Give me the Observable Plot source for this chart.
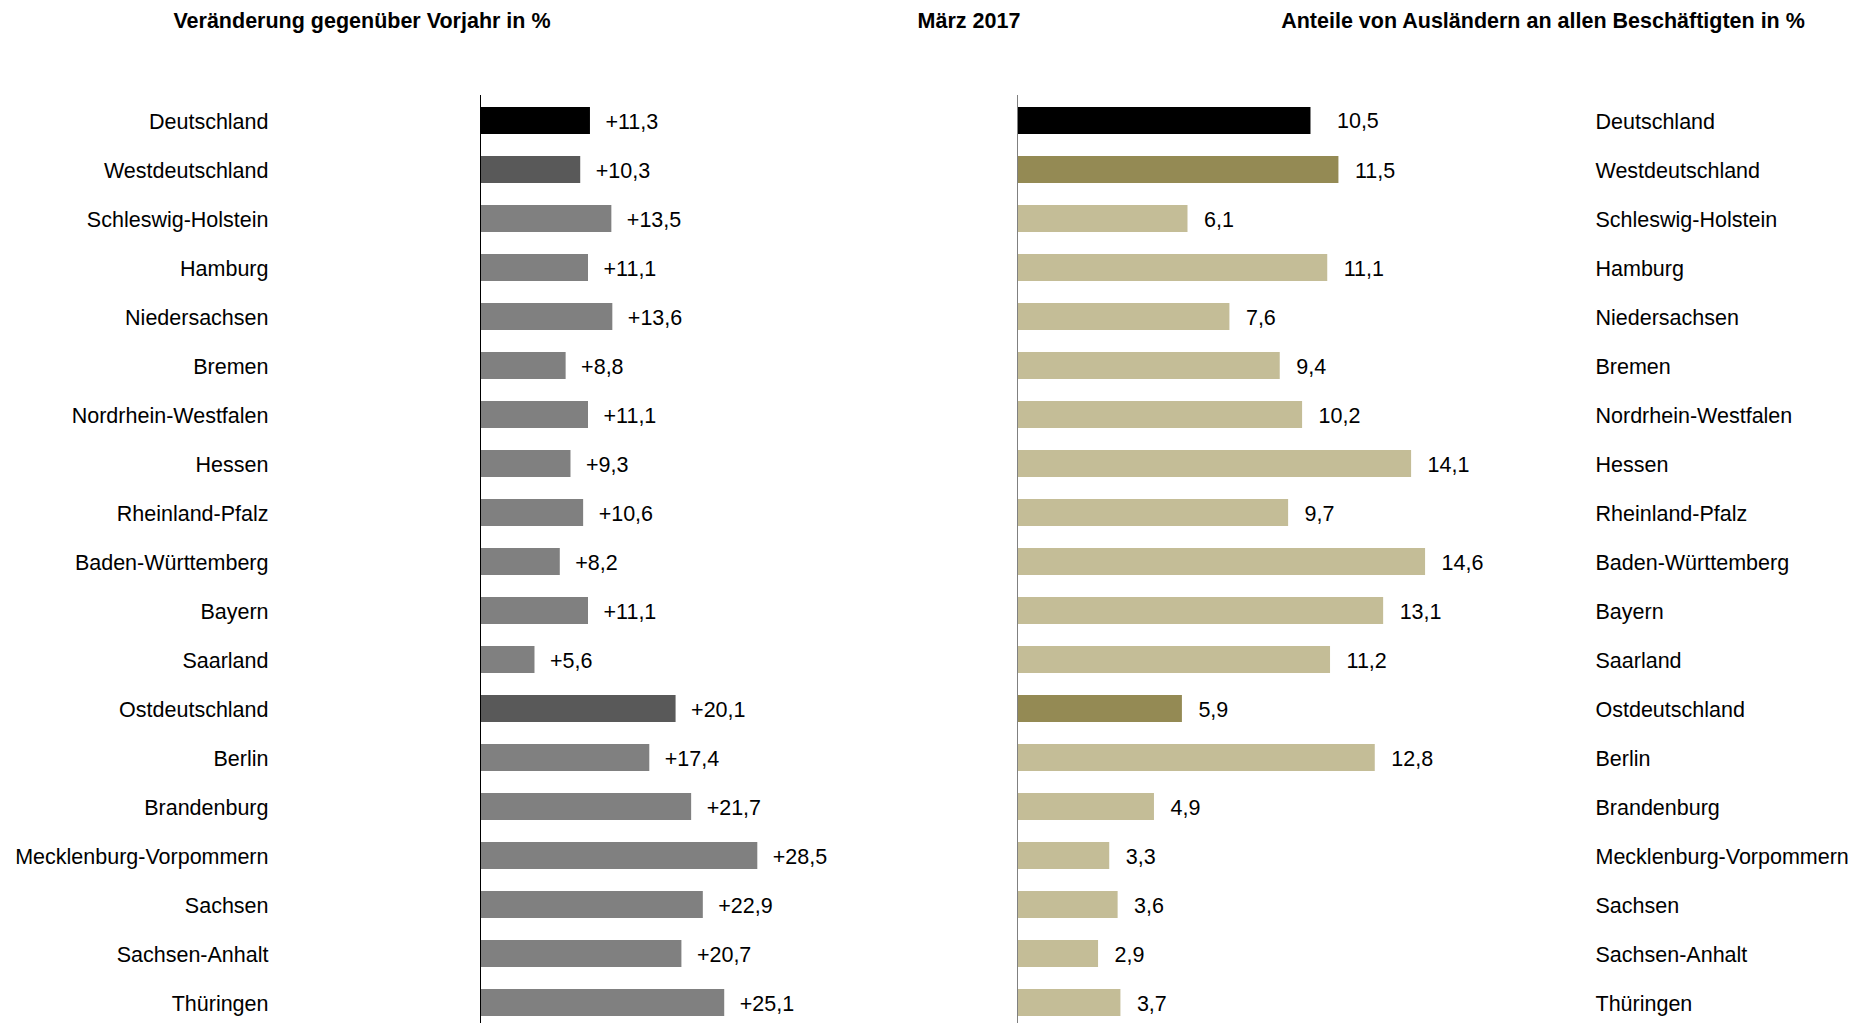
<!DOCTYPE html>
<html>
<head>
<meta charset="utf-8">
<script src="https://cdn.jsdelivr.net/npm/d3@7"></script>
<script src="https://cdn.jsdelivr.net/npm/@observablehq/plot@0.6"></script>
<style>
  html, body { margin: 0; padding: 0; background: #fff; }
  body { width: 1850px; height: 1023px; overflow: hidden; font-family: Arial, "Liberation Sans", sans-serif; }
  #titles { position: relative; height: 50px; width: 1850px; }
  #titles div { position: absolute; top: 9px; transform: translateX(-50%); font-weight: bold; font-size: 21.5px; white-space: nowrap; color: #000; }
  #charts { display: flex; flex-direction: row; width: 1850px; height: 973px; }
</style>
</head>
<body>
<div id="titles">
  <div style="left:362px">Veränderung gegenüber Vorjahr in %</div>
  <div style="left:969px">März 2017</div>
  <div style="left:1543px">Anteile von Ausländern an allen Beschäftigten in %</div>
</div>
<div id="charts"></div>
<script>
const regions = ["Deutschland","Westdeutschland","Schleswig-Holstein","Hamburg","Niedersachsen","Bremen","Nordrhein-Westfalen","Hessen","Rheinland-Pfalz","Baden-Württemberg","Bayern","Saarland","Ostdeutschland","Berlin","Brandenburg","Mecklenburg-Vorpommern","Sachsen","Sachsen-Anhalt","Thüringen"];
const levels = ["total","region","state","state","state","state","state","state","state","state","state","state","region","state","state","state","state","state","state"];
const change = [11.3,10.3,13.5,11.1,13.6,8.8,11.1,9.3,10.6,8.2,11.1,5.6,20.1,17.4,21.7,28.5,22.9,20.7,25.1];
const share = [10.5,11.5,6.1,11.1,7.6,9.4,10.2,14.1,9.7,14.6,13.1,11.2,5.9,12.8,4.9,3.3,3.6,2.9,3.7];

const data = regions.map((r, i) => ({region: r, level: levels[i], change: change[i], share: share[i]}));
const fmt = v => v.toFixed(1).replace(".", ",");

const W = 925, H = 973;
const FS = 21.5;
const yOpts = {domain: regions, range: [45.25, 977.96], paddingInner: 0.44, paddingOuter: 0.22};
const style = {background: "#fff", color: "#000", fontFamily: 'Arial, "Liberation Sans", sans-serif', fontSize: FS + "px", overflow: "visible"};

const left = Plot.plot({
  width: W, height: H,
  marginLeft: 480, marginRight: W - 480 - 40 * 9.73, marginTop: 45, marginBottom: 0,
  style,
  x: {domain: [0, 40], axis: null},
  y: yOpts,
  color: {domain: ["total","region","state"], range: ["#000000","#595959","#808080"]},
  marks: [
    Plot.barX(data, {x: "change", y: "region", fill: "level"}),
    Plot.ruleX([0], {stroke: "#000", strokeWidth: 1}),
    Plot.text(data, {x: "change", y: "region", text: d => "+" + fmt(d.change), textAnchor: "start", dx: 15, dy: 1, fontSize: FS}),
    Plot.axisY({anchor: "left", tickSize: 0, tickPadding: 212, label: null, fontSize: FS, dy: 1})
  ]
});

const right = Plot.plot({
  width: W, height: H,
  marginLeft: 92, marginRight: W - 92 - 20 * 27.95, marginTop: 45, marginBottom: 0,
  style,
  x: {domain: [0, 20], axis: null},
  y: yOpts,
  color: {domain: ["total","region","state"], range: ["#000000","#948A54","#C4BD97"]},
  marks: [
    Plot.barX(data, {x: "share", y: "region", fill: "level"}),
    Plot.ruleX([0], {stroke: "#808080", strokeWidth: 1}),
    Plot.text(data.filter(d => d.level !== "total"), {x: "share", y: "region", text: d => fmt(d.share), textAnchor: "start", dx: 16, dy: 1, fontSize: FS}),
    Plot.text(data.filter(d => d.level === "total"), {x: "share", y: "region", text: d => fmt(d.share), textAnchor: "start", dx: 26, fontSize: FS}),
    Plot.axisY({anchor: "right", tickSize: 0, tickPadding: 19, label: null, fontSize: FS, dy: 1})
  ]
});

document.getElementById("charts").append(left, right);
</script>
</body>
</html>
